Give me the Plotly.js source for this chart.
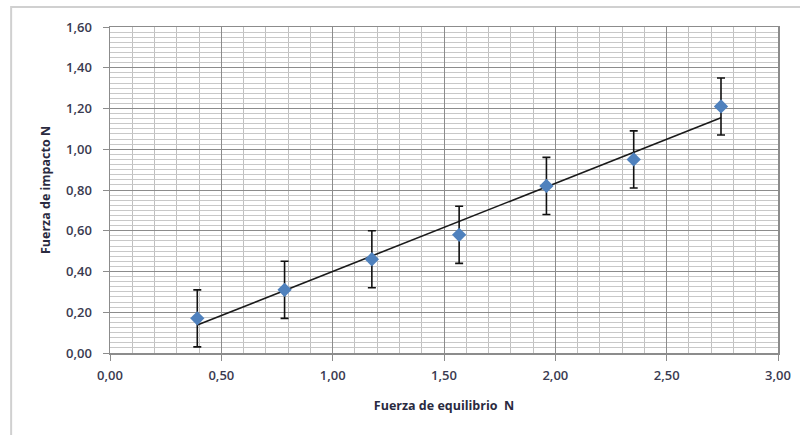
<!DOCTYPE html>
<html>
<head>
<meta charset="utf-8">
<script src="https://cdn.plot.ly/plotly-3.0.1.min.js"></script>
<style>html,body{margin:0;padding:0;background:#fff;}#chart{width:800px;height:435px;}</style>
</head>
<body>
<div id="chart"></div>
<script>
// Data
var fuerzaEquilibrio = [0.392, 0.784, 1.176, 1.568, 1.960, 2.352, 2.744];
var fuerzaImpacto    = [0.17, 0.31, 0.46, 0.58, 0.82, 0.95, 1.21];
var errorImpacto     = [0.14, 0.14, 0.14, 0.14, 0.14, 0.14, 0.14];
var trendX = [0.392, 2.744];
var trendY = [0.137, 1.155];
var xTicks = [0, 0.5, 1, 1.5, 2, 2.5, 3];
var yTicks = [0, 0.2, 0.4, 0.6, 0.8, 1.0, 1.2, 1.4, 1.6];

var font = "'Open Sans', sans-serif";

var traces = [
  {
    x: trendX, y: trendY, type: 'scatter', mode: 'lines',
    line: {color: '#1a1a1a', width: 1.6}, hoverinfo: 'skip'
  },
  {
    x: fuerzaEquilibrio, y: fuerzaImpacto, type: 'scatter', mode: 'markers',
    marker: {symbol: 'diamond', size: 11, color: '#4f81bd'},
    error_y: {type: 'data', array: errorImpacto, visible: true, color: '#111', thickness: 1.6, width: 4}
  }
];

var layout = {
  width: 800, height: 435,
  margin: {l: 110, r: 22, t: 27, b: 82},
  paper_bgcolor: '#fff', plot_bgcolor: '#fff',
  showlegend: false,
  separators: ',.',
  font: {family: font, size: 12, color: '#3a3a50'},
  xaxis: {
    range: [0, 3], tickvals: xTicks, tickformat: '.2f',
    showgrid: true, gridcolor: '#8c8c8c', gridwidth: 1,
    minor: {dtick: 0.1, showgrid: true, gridcolor: '#c0c0c0', gridwidth: 1},
    showline: true, linecolor: '#8c8c8c', linewidth: 1.5, mirror: true,
    ticks: 'outside', ticklen: 6, tickcolor: '#8c8c8c',
    ticklabelstandoff: 4,
    zeroline: false,
    tickfont: {family: font, size: 13, color: '#3a3a50', weight: 600},
    title: {text: 'Fuerza de equilibrio  N', standoff: 18,
            font: {family: font, size: 12.5, color: '#2a2a40', weight: 'bold'}}
  },
  yaxis: {
    range: [0, 1.6], tickvals: yTicks, tickformat: '.2f',
    showgrid: true, gridcolor: '#8c8c8c', gridwidth: 1,
    minor: {dtick: 0.025, showgrid: true, gridcolor: '#c8c8c8', gridwidth: 1},
    showline: true, linecolor: '#8c8c8c', linewidth: 1.5, mirror: true,
    ticks: 'outside', ticklen: 6, tickcolor: '#8c8c8c',
    ticklabelstandoff: 8,
    zeroline: false,
    tickfont: {family: font, size: 13, color: '#3a3a50', weight: 600},
    title: {text: 'Fuerza de impacto N', standoff: 12,
            font: {family: font, size: 12.5, color: '#2a2a40', weight: 'bold'}}
  },
  shapes: [{
    type: 'rect', xref: 'paper', yref: 'paper',
    x0: -0.148, x1: 1.2, y0: -0.4, y1: 1.061,
    line: {color: '#d0d0d0', width: 2}, fillcolor: 'rgba(0,0,0,0)', layer: 'below'
  }]
};

Plotly.newPlot('chart', traces, layout, {staticPlot: true, displayModeBar: false});
</script>
</body>
</html>
